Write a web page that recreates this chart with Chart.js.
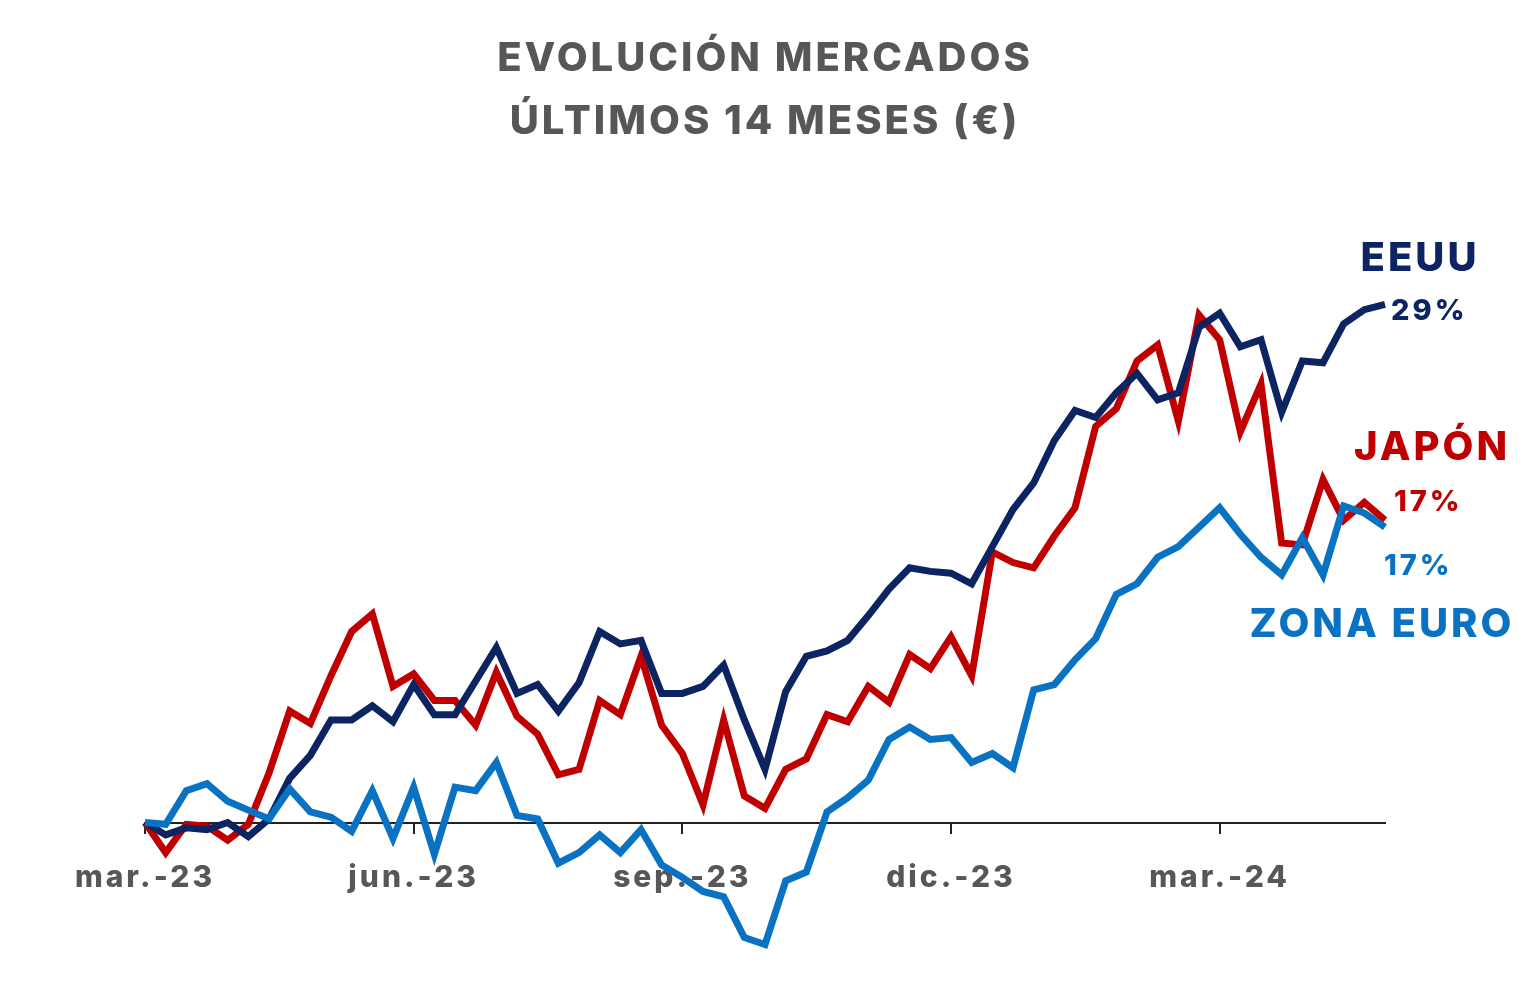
<!DOCTYPE html>
<html lang="es">
<head>
<meta charset="utf-8">
<title>Evolución mercados</title>
<script src="https://cdn.jsdelivr.net/npm/chart.js@4.4.1/dist/chart.umd.min.js"></script>
<style>
  html, body { margin: 0; padding: 0; background: #fff; }
</style>
</head>
<body>
<canvas id="grafico" width="1530" height="999"></canvas>
<script>
// ================== DATOS ==================

// Rentabilidad acumulada semanal (%) desde mar.-23
const eeuu = [0.0, -0.7, -0.3, -0.4, 0.0, -0.8, 0.2, 2.5, 3.8, 5.8,
              5.8, 6.6, 5.7, 7.8, 6.1, 6.1, 8.0, 9.9, 7.3, 7.8,
              6.3, 7.9, 10.8, 10.1, 10.3, 7.3, 7.3, 7.7, 8.9, 5.8,
              3.0, 7.4, 9.4, 9.7, 10.3, 11.7, 13.2, 14.4, 14.2, 14.1,
              13.5, 15.6, 17.7, 19.2, 21.6, 23.3, 22.9, 24.3, 25.4, 23.9,
              24.3, 28.0, 28.8, 26.9, 27.3, 23.2, 26.1, 26.0, 28.2, 29.0,
              29.3];

const japon = [0.0, -1.7, -0.1, -0.2, -1.0, -0.1, 2.8, 6.3, 5.6, 8.3,
               10.8, 11.8, 7.7, 8.4, 6.9, 6.9, 5.5, 8.5, 6.0, 5.0,
               2.7, 3.0, 6.9, 6.1, 9.4, 5.5, 3.9, 1.0, 5.8, 1.5,
               0.8, 3.0, 3.6, 6.1, 5.7, 7.7, 6.8, 9.5, 8.7, 10.5,
               8.3, 15.3, 14.7, 14.4, 16.2, 17.8, 22.4, 23.4, 26.1, 27.0,
               22.7, 28.7, 27.3, 22.1, 24.8, 15.8, 15.7, 19.4, 17.1, 18.1,
               17.1];

const zonaEuro = [0.0, -0.1, 1.8, 2.2, 1.2, 0.7, 0.2, 1.9, 0.6, 0.3,
                  -0.5, 1.8, -0.9, 2.0, -1.8, 2.0, 1.8, 3.4, 0.4, 0.2,
                  -2.3, -1.7, -0.7, -1.7, -0.4, -2.4, -3.1, -3.9, -4.2, -6.5,
                  -6.9, -3.3, -2.8, 0.6, 1.4, 2.4, 4.7, 5.4, 4.7, 4.8,
                  3.4, 3.9, 3.1, 7.5, 7.8, 9.2, 10.4, 12.9, 13.5, 15.0,
                  15.6, 16.7, 17.8, 16.3, 15.0, 14.0, 16.1, 14.0, 17.9, 17.5,
                  16.7];

// Semanas (índice de categoría) y etiquetas trimestrales del eje X
const semanas = eeuu.map((_, i) => i);
const etiquetasEje = ['mar.-23', 'jun.-23', 'sep.-23', 'dic.-23', 'mar.-24'];
const posEtiquetas = [0, 13, 26, 39, 52];

// Textos finales de cada serie
const nombres = ['ZONA EURO', 'EEUU', 'JAPÓN'];
const finales = ['17%', '29%', '17%'];

// ================== ESTILO ==================
const FUENTE = 'Inter, "Open Sans", sans-serif';
const GRIS = '#575757';
const colores = ['#0a72c2', '#0c2461', '#c00000'];

// Posición de los textos respecto al último punto de cada serie
const ajusteTextos = [
    { nombre: [-3, 98],  valor: [-1, 39] },   // zona euro
    { nombre: [35, -45], valor: [6, 7] },     // eeuu
    { nombre: [47, -72], valor: [9, -18] }    // japón
];

// ================== PLUGIN DE ETIQUETAS FINALES ==================
const etiquetasFinales = {
    id: 'etiquetasFinales',
    beforeDraw(chart) {
        // espaciado de letras para el título (fuente más abierta)
        chart.ctx.letterSpacing = '3px';
    },
    afterDatasetsDraw(chart) {
        const ctx = chart.ctx;
        ctx.save();
        ctx.letterSpacing = '3px';
        chart.data.datasets.forEach((ds, i) => {
            const meta = chart.getDatasetMeta(i);
            const ultimo = meta.data[meta.data.length - 1];
            const aj = ajusteTextos[i];
            ctx.fillStyle = colores[i];
            ctx.textBaseline = 'middle';

            ctx.font = `800 40px ${FUENTE}`;
            ctx.textAlign = 'center';
            ctx.fillText(nombres[i], ultimo.x + aj.nombre[0], ultimo.y + aj.nombre[1]);

            ctx.font = `800 29px ${FUENTE}`;
            ctx.textAlign = 'left';
            ctx.fillText(finales[i], ultimo.x + aj.valor[0], ultimo.y + aj.valor[1]);
        });
        ctx.restore();
        // el eje X se dibuja después (z: 1) con algo menos de espaciado
        ctx.letterSpacing = '2px';
    },
    afterDraw(chart) {
        chart.ctx.letterSpacing = '0px';
    }
};

// ================== GRÁFICO ==================
const ctx = document.getElementById('grafico').getContext('2d');
const series = [zonaEuro, eeuu, japon];

new Chart(ctx, {
    type: 'line',
    data: {
        labels: semanas,
        datasets: series.map((d, i) => ({
            label: nombres[i],
            data: d,
            borderColor: colores[i],
            borderWidth: 7,
            pointRadius: 0,
            tension: 0,
            fill: false
        }))
    },
    options: {
        responsive: false,
        devicePixelRatio: 1,
        animation: false,
        layout: { padding: { left: 145, right: 145, top: 0, bottom: 35 } },
        plugins: {
            legend: { display: false },
            tooltip: { enabled: false },
            title: {
                display: true,
                text: ['EVOLUCIÓN MERCADOS', 'ÚLTIMOS 14 MESES (€)'],
                color: GRIS,
                font: { family: FUENTE, size: 40, weight: 800, lineHeight: 1.57 },
                padding: { top: 28, bottom: 103 }
            }
        },
        scales: {
            x: {
                type: 'category',
                position: { y: 0 },
                z: 1,
                offset: false,
                grid: { drawOnChartArea: false, drawTicks: true, tickLength: 10, color: '#222', lineWidth: 2 },
                border: { display: true, color: '#222', width: 2 },
                afterBuildTicks: axis => {
                    axis.ticks = axis.ticks.filter(t => posEtiquetas.includes(t.value));
                },
                ticks: {
                    autoSkip: false,
                    maxRotation: 0,
                    padding: 27,
                    color: GRIS,
                    font: { family: FUENTE, size: 30, weight: 800 },
                    callback: v => etiquetasEje[posEtiquetas.indexOf(v)]
                }
            },
            y: {
                display: false,
                min: -8,
                max: 32
            }
        }
    },
    plugins: [etiquetasFinales]
});
</script>
</body>
</html>
